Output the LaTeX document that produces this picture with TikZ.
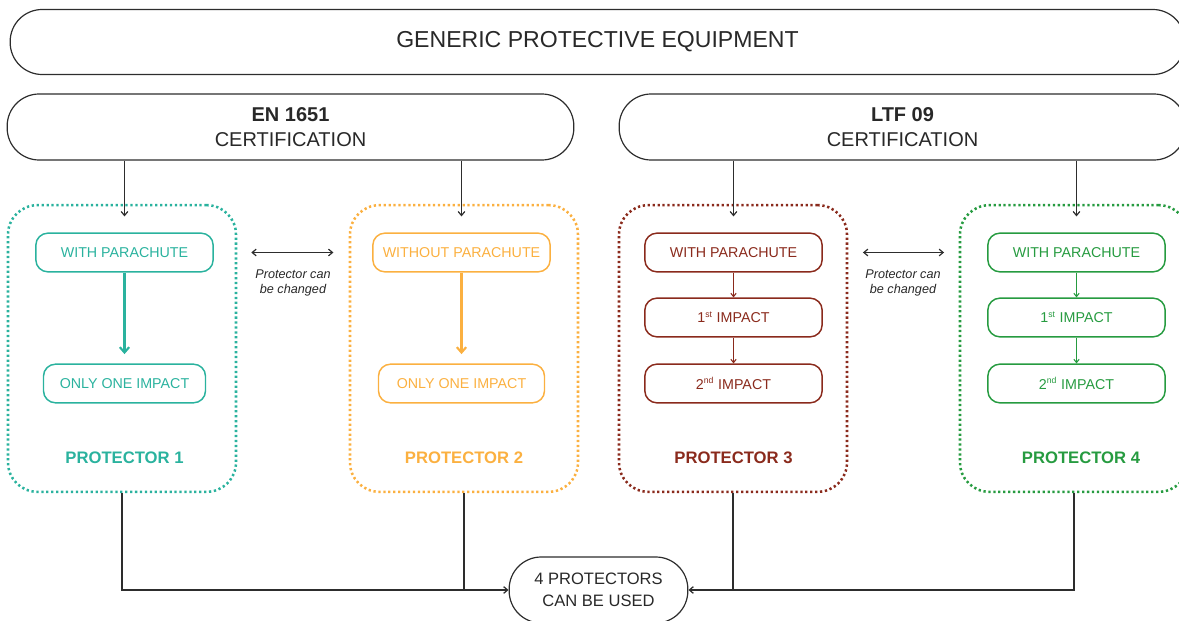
\documentclass[tikz,border=0pt]{standalone}
\usepackage{fontspec}
\setmainfont{Liberation Sans}
\usetikzlibrary{arrows.meta}

\definecolor{linegray}{RGB}{45,45,45}
\definecolor{textgray}{RGB}{40,40,40}
\definecolor{tealp}{RGB}{42,178,158}
\definecolor{orangep}{RGB}{251,176,64}
\definecolor{redp}{RGB}{138,42,28}
\definecolor{greenp}{RGB}{38,155,64}

\tikzset{
  pill/.style = {draw=linegray, line width=0.9pt, rounded corners=#1,
                 inner sep=0pt, align=center, text=textgray},
  pill/.default = 24pt,
  protbox/.style = {draw=#1, line width=1.9pt, dash pattern=on 1.7pt off 2pt,
                    rounded corners=22pt, minimum width=171pt, minimum height=215pt},
  stepbox/.style = {draw=#1, text=#1, line width=1.1pt, rounded corners=9pt,
                    minimum height=29pt, inner sep=0pt,
                    font=\fontsize{10.7}{12}\selectfont},
  link/.style = {draw=linegray, line width=0.9pt,
                 -{Straight Barb[length=3pt,width=5pt]}},
  swap/.style = {draw=linegray, line width=0.9pt,
                 {Straight Barb[length=3pt,width=5pt]}-{Straight Barb[length=3pt,width=5pt]}},
  note/.style = {align=center, text=textgray,
                 font=\itshape\fontsize{9.5}{11.3}\selectfont}
}
\newcommand{\nth}[1]{\textsuperscript{\fontsize{6.5}{7}\selectfont #1}}

\begin{document}
\begin{tikzpicture}[x=0.75pt, y=-0.75pt]
	\useasboundingbox (0,0) rectangle (1179,621);
	\def \cert{\fontsize{15}{18.8}\selectfont}
	\def \prot{\bfseries\fontsize{12.5}{14}\selectfont}

	% Top level
	\node[pill, minimum width=881pt, minimum height=48.75pt,
	      font=\fontsize{17.3}{20}\selectfont] (gen) at (597.5,42) {GENERIC PROTECTIVE EQUIPMENT};

	% Certifications
	\node[pill, minimum width=425pt, minimum height=49.5pt, font=\cert] (en) at (290.5,127) {\textbf{EN 1651}\\CERTIFICATION};
	\node[pill, minimum width=425pt, minimum height=49.5pt, font=\cert] (ltf) at (902.5,127) {\textbf{LTF 09}\\CERTIFICATION};

	% Protector boxes
	\node[protbox=tealp]   (p1) at (122,348.5) {};
	\node[protbox=orangep] (p2) at (464,348.5) {};
	\node[protbox=redp]    (p3) at (733,348.5) {};
	\node[protbox=greenp]  (p4) at (1074,348.5) {};

	% Protector 1
	\node[stepbox=tealp, minimum width=133pt]   (w1) at (124.5,252.5) {WITH PARACHUTE};
	\node[stepbox=tealp, minimum width=121.5pt] (o1) at (124.5,383.5) {ONLY ONE IMPACT};
	\draw[tealp, line width=1.6pt, -{Straight Barb[length=4pt,width=7pt]}, shorten >=7pt] (w1) -- (o1);
	\node[text=tealp, font=\prot] (lab1) at (124.5,458) {PROTECTOR 1};

	% Protector 2
	\node[stepbox=orangep, minimum width=133pt]   (w2) at (461.5,252.5) {WITHOUT PARACHUTE};
	\node[stepbox=orangep, minimum width=124.5pt] (o2) at (461.5,383.5) {ONLY ONE IMPACT};
	\draw[orangep, line width=1.6pt, -{Straight Barb[length=4pt,width=7pt]}, shorten >=7pt] (w2) -- (o2);
	\node[text=orangep, font=\prot] (lab2) at (464,458) {PROTECTOR 2};

	% Protector 3
	\node[stepbox=redp, minimum width=133pt] (w3) at (733.5,252.5) {WITH PARACHUTE};
	\node[stepbox=redp, minimum width=133pt] (f3) at (733.5,317.5) {1\nth{st} IMPACT};
	\node[stepbox=redp, minimum width=133pt] (s3) at (733.5,383.5) {2\nth{nd} IMPACT};
	\draw[redp, line width=0.8pt, -{Straight Barb[length=2.5pt,width=4pt]}] (w3) -- (f3);
	\draw[redp, line width=0.8pt, -{Straight Barb[length=2.5pt,width=4pt]}] (f3) -- (s3);
	\node[text=redp, font=\prot] (lab3) at (733.5,458) {PROTECTOR 3};

	% Protector 4
	\node[stepbox=greenp, minimum width=133pt] (w4) at (1076.5,252.5) {WITH PARACHUTE};
	\node[stepbox=greenp, minimum width=133pt] (f4) at (1076.5,317.5) {1\nth{st} IMPACT};
	\node[stepbox=greenp, minimum width=133pt] (s4) at (1076.5,383.5) {2\nth{nd} IMPACT};
	\draw[greenp, line width=0.8pt, -{Straight Barb[length=2.5pt,width=4pt]}] (w4) -- (f4);
	\draw[greenp, line width=0.8pt, -{Straight Barb[length=2.5pt,width=4pt]}] (f4) -- (s4);
	\node[text=greenp, font=\prot] (lab4) at (1081,458) {PROTECTOR 4};

	% Certification -> protectors
	\draw[link, shorten >=12pt] (en.south -| w1.north) -- (w1.north);
	\draw[link, shorten >=12pt] (en.south -| w2.north) -- (w2.north);
	\draw[link, shorten >=12pt] (ltf.south -| w3.north) -- (w3.north);
	\draw[link, shorten >=12pt] (ltf.south -| w4.north) -- (w4.north);

	% Swaps
	\draw[swap, shorten <=10.5pt, shorten >=11.5pt] (p1.east |- w1) -- (p2.west |- w1);
	\draw[swap, shorten <=11pt, shorten >=11pt] (p3.east |- w3) -- (p4.west |- w3);
	\node[note] (chg12) at (293,283) {Protector can\\be changed};
	\node[note] (chg34) at (903,283) {Protector can\\be changed};

	% Result
	\node[pill, minimum width=134pt, minimum height=49.5pt,
	      font=\fontsize{12.4}{16.5}\selectfont] (used) at (598.5,590) {4 PROTECTORS\\CAN BE USED};
	\draw[link] (p1.south) -- (p1.south |- used.west) -- (used.west);
	\draw[linegray, line width=0.9pt] (p2.south) -- (p2.south |- used.west);
	\draw[link] (p4.south) -- (p4.south |- used.east) -- (used.east);
	\draw[linegray, line width=0.9pt] (p3.south) -- (p3.south |- used.east);
\end{tikzpicture}
\end{document}
